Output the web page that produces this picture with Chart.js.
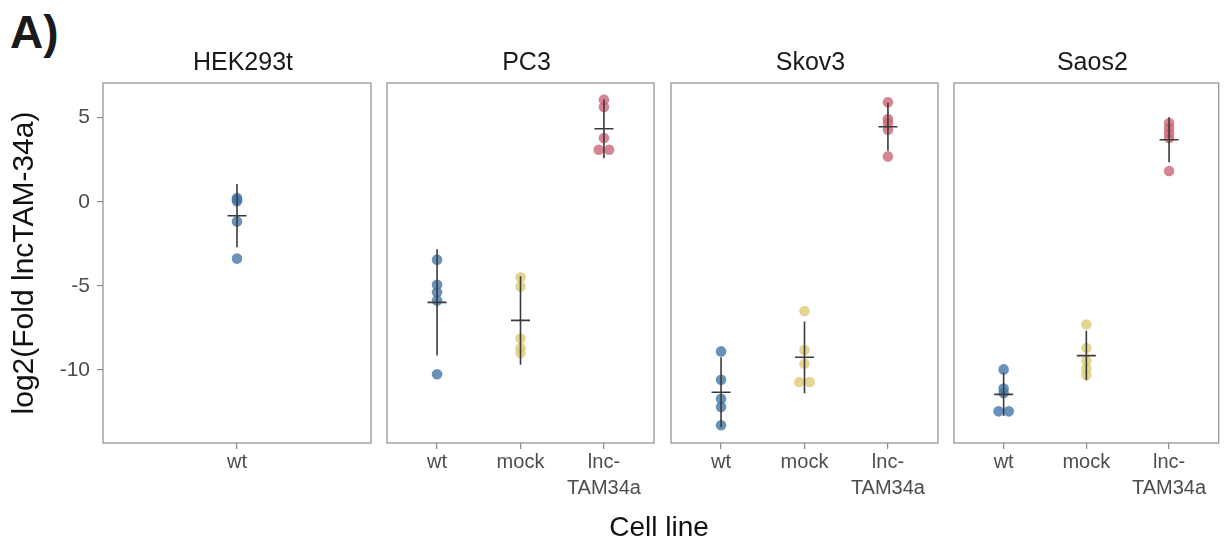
<!DOCTYPE html>
<html>
<head>
<meta charset="utf-8">
<script src="https://cdn.jsdelivr.net/npm/chart.js@4/dist/chart.umd.min.js"></script>
<style>
  body { margin: 0; background: #fff; }
  #wrap { position: relative; width: 1224px; height: 547px; font-family: "Liberation Sans", Arial, sans-serif; }
  #wrap canvas { position: absolute; left: 0; top: 0; }
  #tag { position: absolute; left: 10px; top: 9px; font-size: 46px; line-height: 46px; font-weight: bold; color: #1a1a1a; }
  #xlab { position: absolute; left: 559px; top: 513px; width: 200px; text-align: center; font-size: 28px; line-height: 28px; color: #111; }
</style>
</head>
<body>
<div id="wrap">
  <div id="tag">A)</div>
  <canvas id="p0" width="1224" height="547"></canvas>
  <canvas id="p1" width="1224" height="547"></canvas>
  <canvas id="p2" width="1224" height="547"></canvas>
  <canvas id="p3" width="1224" height="547"></canvas>
  <div id="xlab">Cell line</div>
</div>
<script>
// ---------- data ----------
const panelNames = ["HEK293t", "PC3", "Skov3", "Saos2"];
const groupNames = ["wt", "mock", "lnc-TAM34a"];
const groupTicks = ["wt", "mock", ["lnc-", "TAM34a"]];
const yTicks = [-10, -5, 0, 5];

// single measurements (log2 fold)
const hekWt = [0.22, 0.12, 0.02, -1.17, -3.38];
const pc3Wt = [-3.44, -4.93, -5.38, -5.86, -10.25];
const pc3Mock = [-4.49, -5.03, -8.12, -8.69, -8.99];
const pc3Lnc = [6.06, 5.62, 3.78, 3.09, 3.09];
const skov3Wt = [-8.89, -10.57, -11.7, -12.19, -13.28];
const skov3Mock = [-6.49, -8.81, -9.62, -10.71, -10.71];
const skov3Lnc = [5.9, 4.91, 4.67, 4.28, 2.69];
const saos2Wt = [-9.96, -11.1, -11.36, -12.45, -12.45];
const saos2Mock = [-7.29, -8.69, -9.44, -9.9, -10.29];
const saos2Lnc = [4.67, 4.38, 4.08, 3.78, 1.82];

// mean and error bar half length per group
const hekMean = [-0.83];
const hekSd = [1.88];
const pc3Mean = [-5.98, -7.05, 4.33];
const pc3Sd = [3.15, 2.63, 1.75];
const skov3Mean = [-11.32, -9.24, 4.45];
const skov3Sd = [2.08, 2.13, 1.43];
const saos2Mean = [-11.44, -9.14, 3.68];
const saos2Sd = [1.28, 1.47, 1.33];

// ---------- look ----------
const groupColors = ["rgba(68,119,170,0.8)", "rgba(221,204,119,0.8)", "rgba(204,102,119,0.8)"];
const lineGrey = "#8c8c8c";
const textGrey = "#4d4d4d";
const yMin = -14.33, yMax = 7.05;
// left / right edge of each panel box
const panelBox = [[103, 371], [387, 654], [671, 938], [954, 1221]];

Chart.defaults.font.family = "'Liberation Sans', Arial, sans-serif";

// error bars + mean crossbar, panel frame and strip title
const errorBars = {
  id: "errorBars",
  afterDatasetsDraw(chart, args, opts) {
    const { ctx, chartArea: a } = chart;
    const x = chart.scales.x, y = chart.scales.y;
    ctx.save();
    ctx.strokeStyle = "#3a3a3a";
    ctx.lineWidth = 1.6;
    opts.mean.forEach((m, i) => {
      const px = x.getPixelForValue(i + 1);
      const py = y.getPixelForValue(m);
      ctx.beginPath();
      ctx.moveTo(px, y.getPixelForValue(m - opts.sd[i]));
      ctx.lineTo(px, y.getPixelForValue(m + opts.sd[i]));
      ctx.moveTo(px - 9.5, py);
      ctx.lineTo(px + 9.5, py);
      ctx.stroke();
    });
    ctx.strokeStyle = lineGrey;
    ctx.lineWidth = 1.2;
    ctx.strokeRect(a.left, a.top, a.right - a.left, a.bottom - a.top);

    // strip title, sits a little right of centre like the original
    ctx.fillStyle = "#1a1a1a";
    ctx.font = "25px 'Liberation Sans', Arial, sans-serif";
    ctx.textAlign = "center";
    ctx.textBaseline = "alphabetic";
    ctx.fillText(opts.title, (a.left + a.right) / 2 + 6, a.top - 13);
    ctx.restore();
  },
};

// spread points that sit on the same value side by side
const toPoints = (vals, pos) => {
  const seen = {};
  return vals.map((v) => {
    const k = v.toFixed(1);
    seen[k] = (seen[k] || 0) + 1;
    return { x: pos, y: v, dup: seen[k] };
  }).map((p, i, arr) => {
    const n = arr.filter((q) => q.y.toFixed(1) === p.y.toFixed(1)).length;
    const off = n > 1 ? (p.dup - (n + 1) / 2) * 0.124 : 0;
    return { x: p.x + off, y: p.y };
  });
};

const panelData = [
  { groups: [hekWt], mean: hekMean, sd: hekSd },
  { groups: [pc3Wt, pc3Mock, pc3Lnc], mean: pc3Mean, sd: pc3Sd },
  { groups: [skov3Wt, skov3Mock, skov3Lnc], mean: skov3Mean, sd: skov3Sd },
  { groups: [saos2Wt, saos2Mock, saos2Lnc], mean: saos2Mean, sd: saos2Sd },
];

panelData.forEach((pd, p) => {
  const first = p === 0;
  const [left, right] = panelBox[p];
  const nGroups = pd.groups.length;

  new Chart(document.getElementById("p" + p), {
    type: "scatter",
    data: {
      datasets: pd.groups.map((vals, g) => ({
        label: groupNames[g],
        data: toPoints(vals, g + 1),
        backgroundColor: groupColors[g],
        pointRadius: 5.3,
        pointBorderWidth: 0,
      })),
    },
    options: {
      responsive: false,
      animation: false,
      devicePixelRatio: 1,
      layout: { padding: { left: first ? 0 : left, right: 1224 - right, top: 83, bottom: 0 } },
      plugins: {
        legend: { display: false },
        tooltip: { enabled: false },
        title: { display: false },
        errorBars: { mean: pd.mean, sd: pd.sd, title: panelNames[p] },
      },
      scales: {
        x: {
          type: "linear",
          min: 0.4,
          max: nGroups + 0.6,
          afterBuildTicks: (s) => {
            s.ticks = pd.groups.map((v, i) => ({ value: i + 1 }));
          },
          afterFit: (s) => { s.height = 104; },
          ticks: {
            autoSkip: false,
            maxRotation: 0,
            minRotation: 0,
            padding: 0,
            color: textGrey,
            font: { size: 20, lineHeight: 1.3 },
            callback: (v) => groupTicks[v - 1],
          },
          grid: { drawOnChartArea: false, drawTicks: true, tickLength: 6, color: lineGrey, lineWidth: 1.2 },
          border: { display: false },
        },
        y: {
          display: first,
          min: yMin,
          max: yMax,
          afterBuildTicks: (s) => {
            s.ticks = yTicks.map((v) => ({ value: v }));
          },
          afterFit: (s) => { if (first) s.width = left; },
          ticks: { color: textGrey, padding: 7, font: { size: 21 } },
          grid: { drawOnChartArea: false, drawTicks: true, tickLength: 6, color: lineGrey, lineWidth: 1.2 },
          border: { display: false },
          title: {
            display: true,
            text: "log2(Fold lncTAM-34a)",
            color: "#111",
            font: { size: 30 },
            padding: { top: 7, bottom: 0 },
          },
        },
      },
    },
    plugins: [errorBars],
  });
});
</script>
</body>
</html>
